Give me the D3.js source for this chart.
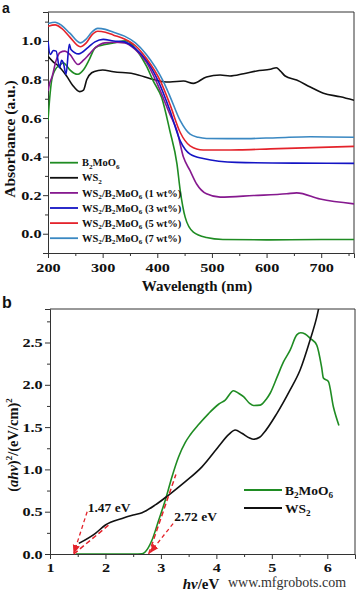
<!DOCTYPE html>
<html>
<head>
<meta charset="utf-8">
<script src="https://cdn.jsdelivr.net/npm/d3@7/dist/d3.min.js"></script>
<style>
  body { margin: 0; background: #fff; }
  text { font-family: "Liberation Serif", "Times New Roman", serif; font-weight: bold; fill: #111; }
</style>
</head>
<body>
<svg id="chart" width="358" height="593"></svg>
<script>
// ---- panel a : absorbance spectra (wavelength nm, absorbance a.u.)
var bmoAbs = [[200,0.586],[203,0.7],[207,0.8],[213,0.85],[222,0.875],[228,0.887],[233,0.875],[240,0.85],[255,0.827],[265,0.85],[275,0.9],[285,0.96],[292,0.973],[302,0.98],[320,0.99],[344,1.0],[360,0.96],[380,0.87],[393,0.79],[408,0.706],[423,0.534],[436,0.362],[442,0.224],[451,0.086],[466,0.008],[490,-0.02],[520,-0.03],[600,-0.032],[700,-0.03],[760,-0.03]];
var ws2Abs = [[200,0.92],[210,0.89],[219,0.87],[234,0.818],[245,0.77],[258,0.737],[265,0.745],[271,0.8],[280,0.835],[292,0.847],[300,0.849],[320,0.84],[356,0.83],[397,0.797],[417,0.787],[423,0.787],[448,0.792],[466,0.78],[490,0.813],[515,0.823],[533,0.818],[558,0.83],[582,0.844],[607,0.853],[618,0.861],[625,0.845],[634,0.818],[655,0.797],[680,0.761],[704,0.729],[735,0.71],[760,0.692]];
var ws1Abs = [[200,0.74],[203,0.78],[207,0.81],[215,0.9],[222,0.94],[231,0.947],[240,0.93],[255,0.878],[265,0.9],[275,0.93],[286,0.964],[304,0.99],[320,0.993],[340,0.99],[360,0.955],[380,0.89],[398,0.79],[423,0.62],[436,0.534],[448,0.396],[460,0.327],[472,0.258],[490,0.207],[515,0.19],[576,0.198],[637,0.207],[655,0.212],[698,0.18],[760,0.155]];
var ws3Abs = [[200,1.0],[204,0.93],[210,0.95],[215,0.947],[221,0.861],[225,0.899],[228,0.887],[233,0.827],[239,0.982],[242,0.956],[256,0.933],[274,0.968],[286,0.995],[301,1.008],[320,1.0],[340,0.995],[360,0.96],[380,0.9],[402,0.79],[423,0.64],[442,0.482],[460,0.413],[484,0.39],[545,0.37],[650,0.366],[760,0.365]];
var ws5Abs = [[200,1.076],[213,1.083],[225,1.065],[240,1.02],[259,0.97],[270,0.99],[280,1.03],[291,1.05],[305,1.045],[320,1.03],[340,1.01],[360,0.975],[380,0.91],[406,0.79],[423,0.672],[442,0.525],[460,0.456],[484,0.434],[550,0.435],[607,0.44],[760,0.453]];
var ws7Abs = [[200,1.09],[213,1.097],[225,1.08],[240,1.04],[259,0.99],[270,1.01],[280,1.045],[291,1.065],[305,1.06],[320,1.045],[340,1.025],[360,0.99],[380,0.93],[411,0.79],[423,0.714],[442,0.586],[460,0.516],[475,0.5],[490,0.494],[550,0.493],[620,0.498],[680,0.503],[760,0.5]];

var seriesA = [bmoAbs, ws2Abs, ws1Abs, ws3Abs, ws5Abs, ws7Abs];
var namesA = ["B₂MoO₆", "WS₂", "WS₂/B₂MoO₆ (1 wt%)", "WS₂/B₂MoO₆ (3 wt%)", "WS₂/B₂MoO₆ (5 wt%)", "WS₂/B₂MoO₆ (7 wt%)"];
var colorsA = ["#1f8c23", "#111111", "#86198f", "#1414c4", "#e4232b", "#3a88c2"];
var xTicksA = [200, 300, 400, 500, 600, 700];
var xMinorA = [250, 350, 450, 550, 650, 750];
var yTicksA = [0, 0.2, 0.4, 0.6, 0.8, 1.0];
var yMinorA = [-0.1, 0.1, 0.3, 0.5, 0.7, 0.9, 1.1];

// ---- panel b : Tauc plot (hv eV, (ahv)^2)
var bmoTauc = [[1.47,0],[2.0,0],[2.5,0],[2.66,0.003],[2.72,0.027],[2.84,0.165],[2.96,0.4],[3.08,0.638],[3.2,0.914],[3.32,1.15],[3.44,1.32],[3.53,1.41],[3.68,1.53],[3.86,1.66],[4.04,1.77],[4.16,1.82],[4.31,1.93],[4.4,1.9],[4.49,1.86],[4.6,1.78],[4.67,1.755],[4.79,1.76],[4.9,1.83],[4.97,1.9],[5.1,2.1],[5.21,2.27],[5.33,2.41],[5.45,2.59],[5.52,2.615],[5.6,2.6],[5.69,2.55],[5.81,2.47],[5.9,2.2],[5.93,2.08],[6.02,2.04],[6.11,1.74],[6.21,1.52]];
var ws2Tauc = [[1.52,0.126],[1.82,0.245],[2.0,0.343],[2.3,0.42],[2.5,0.46],[2.66,0.488],[2.9,0.58],[3.14,0.697],[3.44,0.855],[3.74,1.03],[4.04,1.27],[4.22,1.41],[4.34,1.466],[4.46,1.427],[4.6,1.37],[4.67,1.356],[4.78,1.38],[4.85,1.427],[5.09,1.66],[5.33,1.94],[5.51,2.175],[5.69,2.53],[5.81,2.8],[5.87,2.98]];
var namesB = ["B₂MoO₆", "WS₂"];
var colorsB = ["#1f8c23", "#111111"];
var tangentWs2 = [[1.43,0],[2.06,0.343]];
var pointerWs2 = [[1.67,0.5],[1.43,0.01]];
var tangentBmo = [[2.78,0],[3.27,0.94]];
var pointerBmo = [[3.22,0.36],[2.81,0.02]];
var gapLabels = [["1.47 eV", 1.68, 0.5], ["2.72 eV", 3.24, 0.39]];
var xTicksB = [1, 2, 3, 4, 5, 6];
var xMinorB = [1.5, 2.5, 3.5, 4.5, 5.5];
var yTicksB = [0, 0.5, 1.0, 1.5, 2.0, 2.5];
var yMinorB = [0.25, 0.75, 1.25, 1.75, 2.25, 2.75];

var svg = d3.select("#chart");
var defs = svg.append("defs");
defs.append("marker").attr("id", "arr").attr("viewBox", "0 0 10 10")
  .attr("refX", 9).attr("refY", 5).attr("markerWidth", 7).attr("markerHeight", 7)
  .attr("orient", "auto")
  .append("path").attr("d", "M0,1L10,5L0,9z").attr("fill", "#e4232b");

function richText(sel, s, fs) {
  var subs = "₀₁₂₃₄₅₆₇₈₉";
  var runs = [], cur = "", curSub = false;
  for (var ch of s) {
    var i = subs.indexOf(ch);
    var isSub = i >= 0;
    var c = isSub ? String(i) : ch;
    if (isSub !== curSub && cur) { runs.push([cur, curSub]); cur = ""; }
    curSub = isSub; cur += c;
  }
  if (cur) runs.push([cur, curSub]);
  var down = false;
  runs.forEach(function (r) {
    var ts = sel.append("tspan").text(r[0]);
    if (r[1]) { ts.attr("font-size", fs * 0.68).attr("dy", down ? 0 : fs * 0.22); down = true; }
    else if (down) { ts.attr("dy", -fs * 0.22); down = false; }
  });
}

function panel(box, xd, yd, id) {
  var x = d3.scaleLinear().domain(xd).range([box.l, box.r]);
  var y = d3.scaleLinear().domain(yd).range([box.b, box.t]);
  defs.append("clipPath").attr("id", id).append("rect")
    .attr("x", box.l).attr("y", box.t).attr("width", box.r - box.l).attr("height", box.b - box.t);
  return { x: x, y: y };
}

function axes(p, box, xt, xm, yt, ym, yfmt, ypad, xpad) {
  var gx = svg.append("g").attr("transform", "translate(0," + box.b + ")")
    .call(d3.axisBottom(p.x).tickValues(xt).tickSize(5).tickPadding(xpad).tickFormat(d3.format("d")));
  var gxm = svg.append("g").attr("transform", "translate(0," + box.b + ")")
    .call(d3.axisBottom(p.x).tickValues(xm).tickSize(3).tickFormat(""));
  var gy = svg.append("g").attr("transform", "translate(" + box.l + ",0)")
    .call(d3.axisLeft(p.y).tickValues(yt).tickSize(5).tickPadding(ypad).tickFormat(yfmt));
  var gym = svg.append("g").attr("transform", "translate(" + box.l + ",0)")
    .call(d3.axisLeft(p.y).tickValues(ym).tickSize(3).tickFormat(""));
  [gxm, gym].forEach(function (g) { g.select(".domain").remove(); });
  [gx, gy, gxm, gym].forEach(function (g) {
    g.selectAll("line").attr("stroke", "#333");
    g.select(".domain").attr("stroke", "#333");
    g.selectAll("text").attr("font-size", 12.5).attr("fill", "#111")
      .attr("transform", "scale(1.3,1)");
  });
  svg.append("path").attr("fill", "none").attr("stroke", "#333")
    .attr("d", "M" + box.l + "," + box.t + "H" + box.r + "V" + box.b);
}

var line = function (p) {
  return d3.line().x(function (d) { return p.x(d[0]); }).y(function (d) { return p.y(d[1]); })
    .curve(d3.curveMonotoneX);
};

// ================= panel a
var boxA = { l: 48, r: 354, t: 12, b: 253 };
var pa = panel(boxA, [200, 760], [-0.1, 1.15], "clipA");
axes(pa, boxA, xTicksA, xMinorA, yTicksA, yMinorA, d3.format(".1f"), 0, 5);

var gA = svg.append("g").attr("clip-path", "url(#clipA)");
var drawOrder = [1, 0, 2, 3, 4, 5];
drawOrder.forEach(function (i) {
  gA.append("path").datum(seriesA[i]).attr("fill", "none")
    .attr("stroke", colorsA[i]).attr("stroke-width", 1.6).attr("d", line(pa));
});

namesA.forEach(function (n, i) {
  var yy = 162.7 + i * 15.1;
  svg.append("line").attr("x1", 50).attr("x2", 78).attr("y1", yy).attr("y2", yy)
    .attr("stroke", colorsA[i]).attr("stroke-width", 1.8);
  var t = svg.append("text").attr("x", 82).attr("y", yy + 3.6).attr("font-size", 10.5);
  richText(t, n, 10.5);
});

svg.append("text").attr("x", 197).attr("y", 291).attr("text-anchor", "middle")
  .attr("font-size", 15).text("Wavelength (nm)");
svg.append("text").attr("transform", "translate(15,139) rotate(-90)")
  .attr("text-anchor", "middle").attr("font-size", 15.5).text("Absorbance (a.u.)");
svg.append("text").attr("x", 2).attr("y", 13).attr("font-size", 14)
  .style("font-family", "'Liberation Sans', Arial, sans-serif").text("a");

// ================= panel b
var boxB = { l: 50, r: 355, t: 309, b: 554 };
var pb = panel(boxB, [1, 6.5], [0, 2.896], "clipB");
axes(pb, boxB, xTicksB, xMinorB, yTicksB, yMinorB, d3.format(".1f"), 0.6, 4);

var gB = svg.append("g").attr("clip-path", "url(#clipB)");
gB.append("path").datum(bmoTauc).attr("fill", "none").attr("stroke", colorsB[0])
  .attr("stroke-width", 1.6).attr("d", line(pb));
gB.append("path").datum(ws2Tauc).attr("fill", "none").attr("stroke", colorsB[1])
  .attr("stroke-width", 1.6).attr("d", line(pb));

var straight = d3.line().x(function (d) { return pb.x(d[0]); }).y(function (d) { return pb.y(d[1]); });
[tangentWs2, tangentBmo].forEach(function (d) {
  svg.append("path").attr("d", straight(d)).attr("stroke", "#e4232b").attr("stroke-width", 1.5)
    .attr("stroke-dasharray", "5,3").attr("fill", "none");
});
[pointerWs2, pointerBmo].forEach(function (d) {
  svg.append("path").attr("d", straight(d)).attr("stroke", "#e4232b").attr("stroke-width", 1.3)
    .attr("stroke-dasharray", "4,3").attr("fill", "none").attr("marker-end", "url(#arr)");
});
gapLabels.forEach(function (g) {
  svg.append("text").attr("x", pb.x(g[1])).attr("y", pb.y(g[2]))
    .attr("font-size", 13.5).text(g[0]);
});

namesB.forEach(function (n, i) {
  var yy = 490 + i * 18;
  svg.append("line").attr("x1", 244).attr("x2", 282).attr("y1", yy).attr("y2", yy)
    .attr("stroke", colorsB[i]).attr("stroke-width", 1.8);
  var t = svg.append("text").attr("x", 285).attr("y", yy + 5).attr("font-size", 13.5);
  richText(t, n, 13.5);
});

var xl = svg.append("text").attr("x", 201).attr("y", 589).attr("text-anchor", "middle").attr("font-size", 15);
xl.append("tspan").attr("font-style", "italic").text("hv");
xl.append("tspan").text("/eV");

var yl = svg.append("text").attr("transform", "translate(18,445) rotate(-90)")
  .attr("text-anchor", "middle").attr("font-size", 14.5);
yl.append("tspan").text("(");
yl.append("tspan").attr("font-style", "italic").text("ahv");
yl.append("tspan").text(")");
yl.append("tspan").attr("font-size", 9).attr("dy", -6).text("2");
yl.append("tspan").attr("dy", 6).text("/(eV/cm)");
yl.append("tspan").attr("font-size", 9).attr("dy", -6).text("2");

svg.append("text").attr("x", 2).attr("y", 308).attr("font-size", 16)
  .style("font-family", "'Liberation Sans', Arial, sans-serif").text("b");

svg.append("text").attr("x", 228).attr("y", 587).attr("font-size", 14)
  .style("font-weight", "normal").style("fill", "#333").text("www.mfgrobots.com");
</script>
</body>
</html>
